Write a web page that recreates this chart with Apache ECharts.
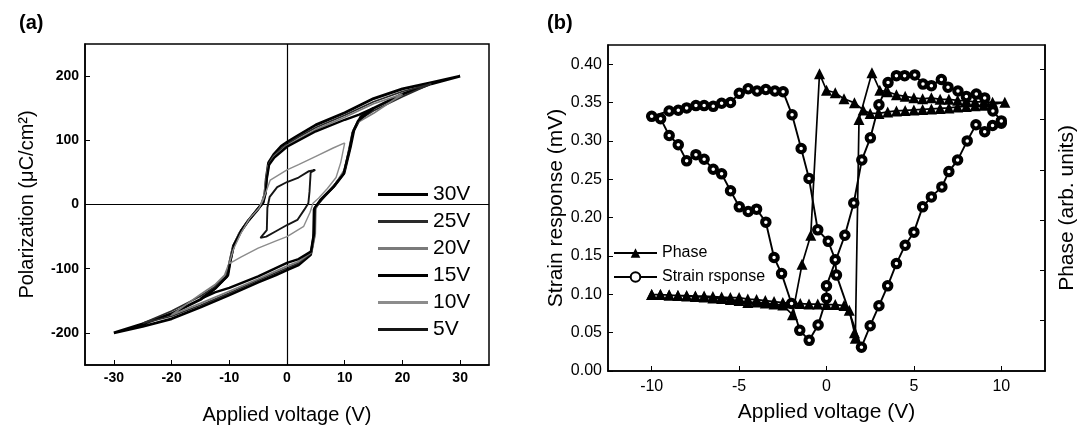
<!DOCTYPE html>
<html><head><meta charset="utf-8">
<script src="https://cdn.jsdelivr.net/npm/echarts@6/dist/echarts.min.js"></script>
<style>html,body{margin:0;padding:0;background:#fff}#c{width:1083px;height:436px}</style>
</head><body><div id="c"></div>
<script>
// ---------- Panel (a): P-E hysteresis loops ----------
const xTicksA = [-30, -20, -10, 0, 10, 20, 30];
const yTicksA = [-200, -100, 0, 100, 200];
const loopNames = ['30V', '25V', '20V', '15V', '10V', '5V'];

const upper30 = [[30,200],[25,190],[20,180],[15,165],[10,143],[5,124],[2,108],[0,97],[-1,91],[-2.3,78],[-3.2,65],[-3.6,40],[-3.8,18],[-4.2,3],[-5,-7],[-6.7,-25],[-8,-42],[-9.3,-65],[-9.9,-90],[-10.4,-112],[-12.8,-133],[-15,-148],[-20,-170],[-25,-186],[-30,-200]];
const lower30 = [[-30,-200],[-25,-190],[-20,-178],[-15,-160],[-10,-141],[-5,-121],[-2,-110],[0,-102],[2,-94],[4.1,-78],[4.6,-50],[4.7,-8],[5.8,7],[8.1,28],[9.9,49],[11,90],[11.6,116],[12.8,137],[15,150],[20,172],[25,188],[30,200]];
const upper25 = [[25,188],[20,176],[15,160],[10,139],[5,120],[2,105],[0,94],[-2.3,76],[-3.2,63],[-3.6,38],[-3.9,15],[-4.4,2],[-5.2,-8],[-6.8,-26],[-8.2,-44],[-9.4,-68],[-10,-92],[-10.6,-112],[-12.5,-128],[-15,-143],[-20,-166],[-25,-185]];
const lower25 = [[-25,-185],[-20,-174],[-15,-157],[-10,-138],[-5,-118],[0,-99],[2,-91],[4.2,-76],[4.8,-48],[4.9,-6],[6,8],[8.2,30],[10,52],[10.9,90],[11.4,114],[12.5,132],[15,146],[20,168],[25,188]];
const upper20 = [[20,172],[15,157],[10,136],[5,117],[0,92],[-2.3,74],[-3.3,60],[-3.7,35],[-4,14],[-4.5,1],[-5.3,-9],[-7,-28],[-8.4,-46],[-9.5,-70],[-10.1,-93],[-10.8,-110],[-12.5,-125],[-15,-140],[-20,-172]];
const lower20 = [[-20,-172],[-15,-154],[-10,-135],[-5,-116],[0,-96],[2,-89],[4.3,-74],[4.9,-46],[5,-5],[6.2,9],[8.3,31],[10,55],[10.8,90],[11.3,112],[12.3,128],[15,142],[20,172]];
const upper15 = [[15,150],[12.5,140],[10,132],[5,114],[0,90],[-2.2,73],[-3.1,62],[-3.5,40],[-3.7,18],[-4.1,3],[-5,-6],[-6.6,-24],[-7.9,-40],[-9.2,-63],[-9.8,-88],[-10.2,-110],[-12.3,-130],[-15,-147]];
const lower15 = [[-15,-147],[-12.5,-137],[-10,-130],[-5,-112],[0,-91],[2,-85],[4.2,-73],[4.7,-45],[4.8,-5],[5.9,7],[8,27],[9.8,48],[10.8,85],[11.4,112],[12.3,130],[15,150]];
const upper10 = [[10,96],[8,88],[5,75],[2,62],[0,54],[-2.9,38],[-4.1,8],[-4.8,-5],[-6.5,-22],[-8,-45],[-9.3,-70],[-10,-92]];
const lower10 = [[-10,-92],[-8,-82],[-5,-68],[-2,-57],[0,-50],[2.9,-34],[4,-12],[4.5,2],[5.5,10],[7,25],[8.5,42],[9.3,65],[10,96]];
const upper5 = [[4.9,54],[3.8,52],[2,42],[0,35],[-1.7,27],[-3,12],[-3.4,-5],[-3.5,-40],[-4.6,-52]];
const lower5 = [[-4.6,-52],[-3.6,-50],[-2,-42],[0,-32],[1.8,-24],[3,-8],[3.7,2],[3.9,20],[4.1,50],[4.9,54]];

// ---------- Panel (b): strain response and phase ----------
const xTicksB = [-10, -5, 0, 5, 10];
const yTicksB = [0, 0.05, 0.10, 0.15, 0.20, 0.25, 0.30, 0.35, 0.40];
const phaseTicks = [1, 2, 3, 4, 5, 6];

const strainResponse = [
  [10.0,0.323],[9.5,0.320],[9.05,0.312],[8.55,0.321],[8.05,0.300],[7.5,0.275],[7.0,0.260],[6.6,0.240],[6.0,0.227],[5.5,0.214],[5.0,0.181],[4.5,0.164],[4.0,0.140],[3.5,0.111],[3.0,0.085],[2.5,0.059],[2.0,0.031],
  [0.57,0.125],[0.5,0.145],[0.1,0.169],[-0.5,0.184],[-1.0,0.251],[-1.45,0.290],[-1.97,0.334],[-2.48,0.364],[-2.95,0.365],[-3.47,0.367],[-3.97,0.365],[-4.48,0.368],[-4.99,0.362],[-5.49,0.350],[-6.0,0.349],[-6.48,0.345],[-7.0,0.346],[-7.47,0.346],[-8.0,0.343],[-8.48,0.340],[-9.0,0.339],[-10.0,0.332],
  [-9.49,0.329],[-9.0,0.307],[-8.48,0.295],[-8.0,0.274],[-7.47,0.282],[-7.0,0.276],[-6.48,0.263],[-6.0,0.257],[-5.49,0.235],[-4.99,0.214],[-4.48,0.208],[-4.0,0.211],[-3.47,0.194],[-3.0,0.148],[-2.57,0.127],[-2.0,0.088],[-1.53,0.053],[-0.99,0.040],[-0.48,0.060],[0.0,0.095],[0.0,0.111],[1.05,0.177],[1.56,0.219],[2.02,0.275],[2.51,0.304],[3.0,0.347],
  [3.52,0.376],[4.0,0.385],[4.47,0.385],[5.05,0.386],[5.52,0.374],[6.0,0.372],[6.57,0.380],[6.95,0.370],[7.52,0.365],[8.0,0.358],[8.57,0.361],[9.05,0.356],[9.52,0.339],[10.0,0.326]
];
const phase = [
  [-10,1.52],[-9.5,1.52],[-9,1.51],[-8.5,1.50],[-8,1.50],[-7.5,1.49],[-7,1.49],[-6.5,1.48],[-6,1.47],[-5.5,1.46],[-5,1.46],[-4.5,1.43],[-4,1.42],[-3.5,1.40],[-3,1.38],[-2.5,1.36],[-2,1.35],[-1.5,1.34],[-1,1.33],[-0.5,1.33],[0,1.32],[0.5,1.32],[1.0,1.30],[1.3,1.21],[1.6,0.76],[1.65,0.65],
  [1.86,5.00],[2.6,5.93],[3.05,5.58],[3.5,5.55],[4.0,5.49],[4.5,5.46],[5.0,5.43],[5.5,5.41],[6.0,5.43],[6.5,5.40],[7.0,5.40],[7.5,5.38],[8.0,5.37],[8.5,5.35],[9.0,5.35],[9.5,5.34],[10.2,5.34],
  [9.5,5.30],[9.0,5.28],[8.5,5.27],[8.0,5.26],[7.5,5.25],[7.0,5.23],[6.5,5.22],[6.0,5.21],[5.5,5.20],[5.0,5.19],[4.5,5.18],[4.0,5.17],[3.5,5.15],[3.0,5.12],[2.5,5.12],[2.1,5.19],[1.6,5.33],[1.0,5.41],[0.5,5.53],[0.0,5.58],[-0.4,5.91],
  [-0.9,2.70],[-1.4,2.12],[-1.95,1.12],[-2.5,1.31],[-3.0,1.33],[-3.5,1.35],[-4.0,1.37],[-4.5,1.36],[-5.0,1.40],[-5.5,1.42],[-6.0,1.44],[-6.5,1.45],[-7.0,1.47],[-7.5,1.48],[-8.0,1.49],[-8.5,1.50],[-9.0,1.51],[-9.5,1.52],[-10.0,1.52]
];

const FONT = '"Liberation Sans", Arial, sans-serif';
const loops = [
  {name:'30V', data: upper30.concat(lower30), color:'#000', width:2.8},
  {name:'25V', data: upper25.concat(lower25), color:'#2a2a2a', width:1.7},
  {name:'20V', data: upper20.concat(lower20), color:'#7a7a7a', width:1.7},
  {name:'15V', data: upper15.concat(lower15), color:'#000', width:2.4},
  {name:'10V', data: upper10.concat(lower10), color:'#8c8c8c', width:1.4},
  {name:'5V',  data: upper5.concat(lower5),  color:'#151515', width:1.9}
];

const chart = echarts.init(document.getElementById('c'), null, {renderer:'canvas'});
const axisTitle = {color:'#000', fontFamily: FONT, fontSize: 20};

const seriesA = loops.map((l, i) => ({
  name: l.name, type: 'line', xAxisIndex: 0, yAxisIndex: 0,
  data: l.data, showSymbol: false, symbol: 'none', smooth: false,
  lineStyle: {color: l.color, width: l.width}, itemStyle: {color: l.color},
  z: 3 + i,
  markLine: i === 0 ? {
    silent: true, symbol: ['none','none'], label: {show:false},
    lineStyle: {color:'#000', width:1.2, type:'solid'},
    data: [{xAxis: 0}, {yAxis: 0}]
  } : undefined
}));

const legendA = loops.map(l => ({
  name: l.name, icon: 'rect',
  itemStyle: {color: l.color, borderWidth: 0}
}));

const option = {
  animation: false,
  backgroundColor: '#fff',
  textStyle: {fontFamily: FONT},
  title: [
    {text: '(a)', left: 14, top: 8, textStyle: {fontFamily: FONT, fontSize: 20, fontWeight: 'bold', color:'#000'}},
    {text: '(b)', left: 542, top: 8, textStyle: {fontFamily: FONT, fontSize: 20, fontWeight: 'bold', color:'#000'}}
  ],
  grid: [
    {left: 85, right: 594, top: 44, bottom: 71, show: true, borderColor: '#000', borderWidth: 1.5, backgroundColor: 'transparent'},
    {left: 608, right: 38, top: 45, bottom: 65, show: true, borderColor: '#000', borderWidth: 1.5, backgroundColor: 'transparent'}
  ],
  legend: [
    {
      data: legendA, orient: 'vertical', left: 373, top: 179,
      itemWidth: 50, itemHeight: 3, itemGap: 6,
      textStyle: {fontFamily: FONT, fontSize: 21, color: '#000', lineHeight: 21},
      selectedMode: false
    },
    {
      data: ['Phase', 'Strain rsponse'], orient: 'vertical', left: 608, top: 240,
      itemWidth: 43, itemHeight: 12, itemGap: 8,
      textStyle: {fontFamily: FONT, fontSize: 16, color: '#000', lineHeight: 16},
      selectedMode: false
    }
  ],
  xAxis: [
    {
      type: 'value', gridIndex: 0, min: -35, max: 35,
      name: 'Applied voltage (V)', nameLocation: 'middle', nameGap: 40, nameTextStyle: axisTitle,
      axisLine: {onZero: false, lineStyle: {color:'#000', width: 1.5}},
      axisTick: {inside: true, length: 5, customValues: xTicksA, lineStyle: {color:'#000'}},
      axisLabel: {customValues: xTicksA, margin: 6, color:'#000', fontFamily: FONT, fontSize: 14, fontWeight: 'bold'},
      splitLine: {show: false}
    },
    {
      type: 'value', gridIndex: 1, min: -12.5, max: 12.5,
      name: 'Applied voltage (V)', nameLocation: 'middle', nameGap: 31, nameTextStyle: {color:'#000', fontFamily: FONT, fontSize: 21},
      axisLine: {onZero: false, lineStyle: {color:'#000', width: 1.5}},
      axisTick: {inside: true, length: 5, customValues: xTicksB, lineStyle: {color:'#000'}},
      axisLabel: {customValues: xTicksB, margin: 8, color:'#000', fontFamily: FONT, fontSize: 16},
      splitLine: {show: false}
    }
  ],
  yAxis: [
    {
      type: 'value', gridIndex: 0, min: -250, max: 250,
      name: 'Polarization (μC/cm²)', nameLocation: 'middle', nameGap: 48, nameRotate: 90, nameTextStyle: axisTitle,
      axisLine: {onZero: false, lineStyle: {color:'#000', width: 1.5}},
      axisTick: {inside: true, length: 5, customValues: yTicksA, lineStyle: {color:'#000'}},
      axisLabel: {customValues: yTicksA, margin: 6, color:'#000', fontFamily: FONT, fontSize: 14, fontWeight: 'bold'},
      splitLine: {show: false}
    },
    {
      type: 'value', gridIndex: 1, min: 0, max: 0.425, position: 'left',
      name: 'Strain response (mV)', nameLocation: 'middle', nameGap: 41, nameRotate: 90,
      nameTextStyle: {color:'#000', fontFamily: FONT, fontSize: 21},
      axisLine: {onZero: false, lineStyle: {color:'#000', width: 1.5}},
      axisTick: {inside: true, length: 5, customValues: yTicksB, lineStyle: {color:'#000'}},
      axisLabel: {customValues: yTicksB, margin: 6, color:'#000', fontFamily: FONT, fontSize: 16,
        formatter: v => v.toFixed(2)},
      splitLine: {show: false}
    },
    {
      type: 'value', gridIndex: 1, min: 0, max: 6.48, position: 'right',
      name: 'Phase (arb. units)', nameLocation: 'middle', nameGap: 12, nameRotate: 90,
      nameTextStyle: {color:'#000', fontFamily: FONT, fontSize: 21, verticalAlign: 'top'},
      axisLine: {onZero: false, lineStyle: {color:'#000', width: 1.5}},
      axisTick: {inside: true, length: 5, customValues: phaseTicks, lineStyle: {color:'#000'}},
      axisLabel: {show: false},
      splitLine: {show: false}
    }
  ],
  series: seriesA.concat([
    {
      name: 'Phase', type: 'line', xAxisIndex: 1, yAxisIndex: 2, data: phase,
      symbol: 'triangle', symbolSize: 11, showAllSymbol: true,
      lineStyle: {color:'#000', width: 1.7}, itemStyle: {color:'#000'}, z: 5
    },
    {
      name: 'Strain rsponse', type: 'line', xAxisIndex: 1, yAxisIndex: 1, data: strainResponse,
      symbol: 'circle', symbolSize: 7.5, showAllSymbol: true,
      lineStyle: {color:'#000', width: 1.9},
      itemStyle: {color:'#fff', borderColor:'#000', borderWidth: 4}, z: 6
    }
  ])
};
chart.setOption(option);
</script>
</body></html>
